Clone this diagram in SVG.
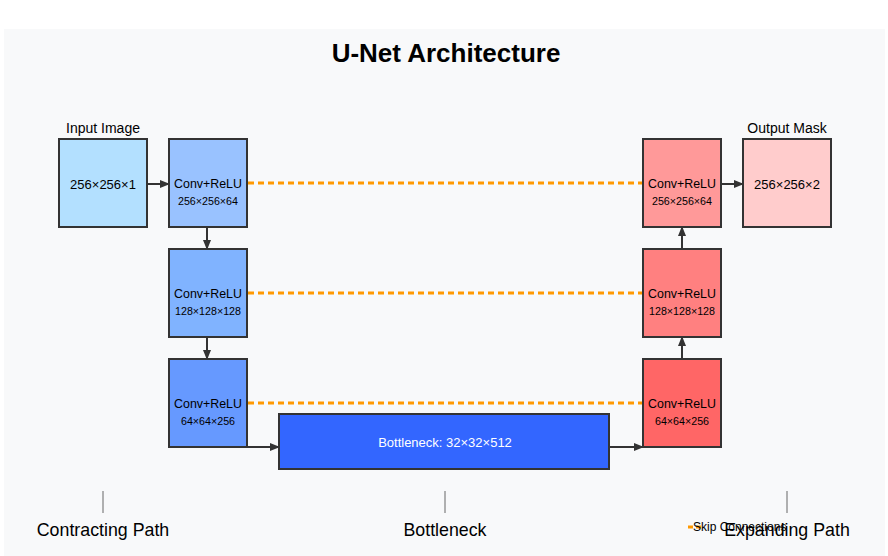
<svg xmlns="http://www.w3.org/2000/svg" width="888" height="556" viewBox="0 0 888 556">
<style>
text{font-family:"Liberation Sans",Arial,sans-serif;text-anchor:middle;fill:#000}
.box{stroke:#333;stroke-width:2}
.t{font-size:12.4px}
.m{font-size:13px}
.s{font-size:10.7px}
.lbl{font-size:14px}
.sec{font-size:17.8px}
.skip{stroke:#ff9900;stroke-width:3;stroke-dasharray:6,4;fill:none}
.arr{stroke:#333;stroke-width:2;fill:none;marker-end:url(#ah)}
.tick{stroke:#666;stroke-width:1}
</style>
<defs>
<marker id="ah" markerWidth="10" markerHeight="8" refX="9" refY="4" orient="auto" markerUnits="userSpaceOnUse">
<path d="M0,0 L10,4 L0,8 Z" fill="#333"/>
</marker>
</defs>
<rect x="4" y="29" width="881" height="527" fill="#f8f9fa"/>
<text x="446" y="62" style="font-size:26px;font-weight:bold">U-Net Architecture</text>

<g id="connectors">
<line class="skip" x1="248" y1="183" x2="642" y2="183"/>
<line class="skip" x1="248" y1="293" x2="642" y2="293"/>
<line class="skip" x1="248" y1="403" x2="642" y2="403"/>
<line class="arr" x1="148" y1="184" x2="169" y2="184"/>
<line class="arr" x1="207" y1="228" x2="207" y2="249"/>
<line class="arr" x1="207" y1="338" x2="207" y2="359"/>
<line class="arr" x1="247" y1="447" x2="279" y2="447"/>
<line class="arr" x1="610" y1="447" x2="643" y2="447"/>
<line class="arr" x1="682" y1="359" x2="682" y2="337"/>
<line class="arr" x1="682" y1="249" x2="682" y2="227"/>
<line class="arr" x1="722" y1="184" x2="743" y2="184"/>
</g>

<g id="input">
<text class="lbl" x="103" y="133">Input Image</text>
<rect class="box" x="59" y="139" width="88" height="88" fill="#b3e0ff"/>
<text class="m" x="103" y="189">256×256×1</text>
</g>
<g id="enc1">
<rect class="box" x="169" y="139" width="78" height="88" fill="#99c2ff"/>
<text class="t" x="208" y="188">Conv+ReLU</text>
<text class="s" x="208" y="205">256×256×64</text>
</g>
<g id="enc2">
<rect class="box" x="169" y="249" width="78" height="88" fill="#80b3ff"/>
<text class="t" x="208" y="298">Conv+ReLU</text>
<text class="s" x="208" y="315">128×128×128</text>
</g>
<g id="enc3">
<rect class="box" x="169" y="359" width="78" height="88" fill="#6699ff"/>
<text class="t" x="208" y="408">Conv+ReLU</text>
<text class="s" x="208" y="425">64×64×256</text>
</g>
<g id="bottleneck">
<rect class="box" x="279" y="414" width="330" height="55" fill="#3366ff"/>
<text class="m" x="445" y="447" style="fill:#fff">Bottleneck: 32×32×512</text>
</g>
<g id="dec3">
<rect class="box" x="643" y="359" width="78" height="88" fill="#ff6666"/>
<text class="t" x="682" y="408">Conv+ReLU</text>
<text class="s" x="682" y="425">64×64×256</text>
</g>
<g id="dec2">
<rect class="box" x="643" y="249" width="78" height="88" fill="#ff8080"/>
<text class="t" x="682" y="298">Conv+ReLU</text>
<text class="s" x="682" y="315">128×128×128</text>
</g>
<g id="dec1">
<rect class="box" x="643" y="139" width="78" height="88" fill="#ff9999"/>
<text class="t" x="682" y="188">Conv+ReLU</text>
<text class="s" x="682" y="205">256×256×64</text>
</g>
<g id="output">
<text class="lbl" x="787" y="133">Output Mask</text>
<rect class="box" x="743" y="139" width="88" height="88" fill="#ffcccc"/>
<text class="m" x="787" y="189">256×256×2</text>
</g>

<g id="sections">
<line class="tick" x1="103" y1="491" x2="103" y2="513"/>
<line class="tick" x1="445" y1="491" x2="445" y2="513"/>
<line class="tick" x1="787" y1="491" x2="787" y2="513"/>
<text class="sec" x="103" y="536">Contracting Path</text>
<text class="sec" x="445" y="536">Bottleneck</text>
<text class="sec" x="787" y="536">Expanding Path</text>
</g>
<g id="legend">
<line x1="688" y1="527" x2="703" y2="527" stroke="#ff9900" stroke-width="3" stroke-dasharray="5,3"/>
<text x="693" y="531" style="font-size:12px;text-anchor:start">Skip Connections</text>
</g>
</svg>
